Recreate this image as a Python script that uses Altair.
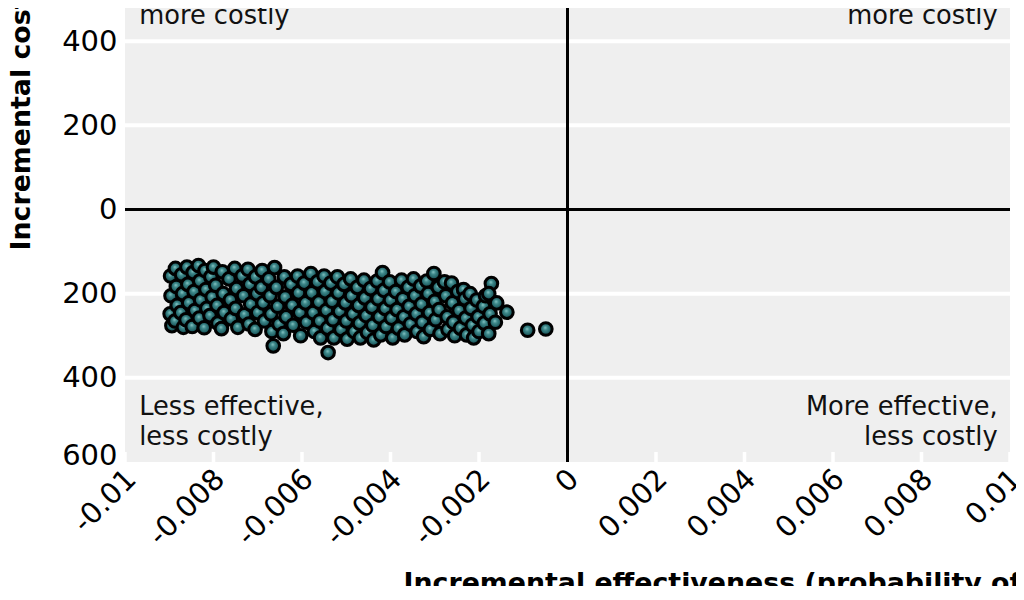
import altair as alt
import pandas as pd

# Probabilistic sensitivity analysis draws: (incremental effectiveness, incremental cost)
psa_draws = [
    (-0.00897, -158), (-0.00896, -205), (-0.00898, -248), (-0.00894, -276),
    (-0.00886, -140), (-0.00884, -183), (-0.00882, -228), (-0.00887, -265),
    (-0.00872, -155), (-0.00870, -200), (-0.00874, -245), (-0.00868, -280),
    (-0.00860, -137), (-0.00858, -178), (-0.00856, -222), (-0.00862, -262),
    (-0.00846, -150), (-0.00844, -195), (-0.00842, -240), (-0.00848, -278),
    (-0.00834, -133), (-0.00831, -170), (-0.00829, -215), (-0.00832, -258),
    (-0.00819, -145), (-0.00817, -190), (-0.00815, -235), (-0.00821, -281),
    (-0.00806, -160), (-0.00803, -208), (-0.00808, -252), (-0.00800, -137),
    (-0.00795, -180), (-0.00792, -228), (-0.00790, -270),
    (-0.00780, -148), (-0.00778, -200), (-0.00776, -245), (-0.00782, -283),
    (-0.00765, -165), (-0.00762, -215), (-0.00760, -260),
    (-0.00752, -140), (-0.00748, -188), (-0.00750, -235), (-0.00745, -280),
    (-0.00735, -158), (-0.00732, -205), (-0.00730, -250),
    (-0.00722, -142), (-0.00718, -178), (-0.00716, -225), (-0.00720, -272),
    (-0.00705, -160), (-0.00702, -200), (-0.00700, -245), (-0.00706, -285),
    (-0.00690, -145), (-0.00688, -222), (-0.00685, -265), (-0.00692, -185),
    (-0.00675, -165), (-0.00672, -205), (-0.00670, -248), (-0.00668, -290),
    (-0.00662, -138), (-0.00665, -324), (-0.00658, -185), (-0.00655, -230), (-0.00652, -272),
    (-0.00640, -160), (-0.00638, -208), (-0.00636, -255), (-0.00642, -295),
    (-0.00625, -178), (-0.00622, -228), (-0.00620, -275),
    (-0.00610, -158), (-0.00608, -198), (-0.00605, -245), (-0.00603, -300),
    (-0.00595, -175), (-0.00592, -222), (-0.00590, -268),
    (-0.00580, -152), (-0.00578, -198), (-0.00575, -245), (-0.00572, -290),
    (-0.00565, -172), (-0.00562, -220), (-0.00560, -265), (-0.00558, -305),
    (-0.00550, -158), (-0.00548, -195), (-0.00545, -240), (-0.00542, -282), (-0.00541, -340),
    (-0.00535, -175), (-0.00532, -218), (-0.00530, -262), (-0.00528, -305),
    (-0.00520, -160), (-0.00518, -198), (-0.00515, -242), (-0.00512, -285),
    (-0.00505, -178), (-0.00502, -222), (-0.00500, -265), (-0.00498, -308),
    (-0.00490, -165), (-0.00488, -205), (-0.00485, -248), (-0.00482, -290),
    (-0.00475, -185), (-0.00472, -228), (-0.00470, -270), (-0.00468, -305),
    (-0.00460, -168), (-0.00458, -210), (-0.00455, -252), (-0.00452, -292),
    (-0.00445, -188), (-0.00442, -232), (-0.00440, -275), (-0.00438, -310),
    (-0.00430, -170), (-0.00428, -212), (-0.00425, -255), (-0.00422, -298),
    (-0.00418, -150), (-0.00415, -192), (-0.00412, -235), (-0.00410, -278),
    (-0.00402, -172), (-0.00400, -215), (-0.00398, -258), (-0.00395, -305),
    (-0.00388, -195), (-0.00385, -238), (-0.00382, -282),
    (-0.00375, -168), (-0.00372, -212), (-0.00370, -255), (-0.00368, -298),
    (-0.00360, -185), (-0.00358, -230), (-0.00355, -272),
    (-0.00348, -165), (-0.00345, -205), (-0.00342, -248), (-0.00340, -290),
    (-0.00332, -182), (-0.00330, -225), (-0.00328, -268), (-0.00325, -302),
    (-0.00318, -170), (-0.00315, -200), (-0.00312, -245), (-0.00310, -285),
    (-0.00302, -152), (-0.00300, -218), (-0.00298, -262),
    (-0.00292, -185), (-0.00290, -238), (-0.00288, -295),
    (-0.00278, -172), (-0.00275, -205), (-0.00272, -255), (-0.00270, -285),
    (-0.00262, -175), (-0.00260, -222), (-0.00258, -268), (-0.00255, -300),
    (-0.00248, -195), (-0.00245, -240), (-0.00242, -282),
    (-0.00235, -190), (-0.00232, -212), (-0.00230, -258), (-0.00228, -298),
    (-0.00220, -200), (-0.00218, -235), (-0.00215, -275), (-0.00212, -305),
    (-0.00205, -215), (-0.00202, -255), (-0.00200, -290),
    (-0.00190, -230), (-0.00188, -270), (-0.00185, -205),
    (-0.00172, -176), (-0.00178, -200), (-0.00175, -248), (-0.00178, -295),
    (-0.00160, -222), (-0.00163, -268),
    (-0.00137, -244),
    (-0.00090, -287), (-0.00049, -284),
]

x_tick_values = [-0.01, -0.008, -0.006, -0.004, -0.002, 0, 0.002, 0.004, 0.006, 0.008, 0.01]
x_tick_labels = ["-0.01", "-0.008", "-0.006", "-0.004", "-0.002", "0",
                 "0.002", "0.004", "0.006", "0.008", "0.01"]
y_tick_values = [-600, -400, -200, 0, 200, 400, 600]
y_tick_labels = ["600", "400", "200", "0", "200", "400", "600"]
y_grid_values = [-400, -200, 200, 400]

quad_left_text = ["Less effective,\nmore costly", "Less effective,\nless costly"]
quad_left_x = [-0.00968, -0.00968]
quad_left_y = [513, -488]
quad_right_text = ["More effective,\nmore costly", "More effective,\nless costly"]
quad_right_x = [0.00972, 0.00972]
quad_right_y = [513, -488]

x_title = "Incremental effectiveness (probability of"
y_title = "Incremental cost"

FONT = "DejaVu Sans"

points = pd.DataFrame(psa_draws, columns=["d_eff", "d_cost"])
ticks = pd.DataFrame({"v": x_tick_values})
grid = pd.DataFrame({"g": y_grid_values})
zero = pd.DataFrame({"z": [0]})
qleft = pd.DataFrame({"t": quad_left_text, "x": quad_left_x, "y": quad_left_y})
qright = pd.DataFrame({"t": quad_right_text, "x": quad_right_x, "y": quad_right_y})


def expr_lookup(vals, labels):
    return ("[" + ",".join("'%s'" % l for l in labels) + "][indexof(["
            + ",".join(str(v) for v in vals) + "], datum.value)]")


xscale = alt.Scale(domain=[-0.01, 0.01], nice=False, zero=False)
yscale = alt.Scale(domain=[-600, 600], nice=False, zero=False)

xaxis = alt.Axis(
    values=x_tick_values, labelExpr=expr_lookup(x_tick_values, x_tick_labels),
    grid=False, ticks=False, domain=False,
    labelFont=FONT, labelFontSize=29, labelColor="black",
    labelAngle=-45, labelAlign="right", labelBaseline="middle",
    labelPadding=12, labelOffset=6, labelOverlap=False, labelBound=False, labelFlush=False,
    title=x_title, titleFont=FONT, titleFontSize=26.8, titleFontWeight="bold",
    titleColor="black", titleAlign="left", titleBaseline="alphabetic",
    titleAnchor="start", titleX=278, titleY=129.5, titleAngle=0,
)
yaxis = alt.Axis(
    values=y_tick_values, labelExpr=expr_lookup(y_tick_values, y_tick_labels),
    grid=False, ticks=False, domain=False,
    labelFont=FONT, labelFontSize=29, labelColor="black",
    labelPadding=8, labelFlush=True, labelFlushOffset=8, labelOverlap=False,
    title=y_title, titleFont=FONT, titleFontSize=26.8, titleFontWeight="bold",
    titleColor="black", titleAngle=-90, titleAlign="left", titleBaseline="alphabetic",
    titleX=-96, titleY=293,
)

grid_layer = alt.Chart(grid).mark_rule(color="white", strokeWidth=4).encode(
    y=alt.Y("g:Q", scale=yscale, axis=yaxis)
)
tick_layer = alt.Chart(ticks).mark_rule(color="white", strokeWidth=3.5).encode(
    x=alt.X("v:Q", scale=xscale, axis=xaxis),
    y=alt.value(505), y2=alt.value(495),
)
zero_h = alt.Chart(zero).mark_rule(color="black", strokeWidth=3).encode(y=alt.Y("z:Q", scale=yscale))
zero_v = alt.Chart(zero).mark_rule(color="black", strokeWidth=3).encode(x=alt.X("z:Q", scale=xscale))

sphere = {
    "gradient": "radial",
    "x1": 0.45, "y1": 0.38, "r1": 0.0,
    "x2": 0.5, "y2": 0.5, "r2": 0.55,
    "stops": [
        {"offset": 0.0, "color": "#8cc9c8"},
        {"offset": 0.3, "color": "#3f8a8c"},
        {"offset": 0.7, "color": "#1f5e62"},
        {"offset": 1.0, "color": "#0a2224"},
    ],
}
pts = alt.Chart(points).mark_circle(
    fill=sphere, stroke="black", strokeWidth=3, size=160, opacity=1
).encode(
    x=alt.X("d_eff:Q", scale=xscale),
    y=alt.Y("d_cost:Q", scale=yscale),
)

txt_left = alt.Chart(qleft).mark_text(
    align="left", baseline="alphabetic", font=FONT, fontSize=25.7,
    color="#111111", lineBreak="\n", lineHeight=30,
).encode(x=alt.X("x:Q", scale=xscale), y=alt.Y("y:Q", scale=yscale), text="t:N")
txt_right = alt.Chart(qright).mark_text(
    align="right", baseline="alphabetic", font=FONT, fontSize=25.7,
    color="#111111", lineBreak="\n", lineHeight=30,
).encode(x=alt.X("x:Q", scale=xscale), y=alt.Y("y:Q", scale=yscale), text="t:N")

chart = alt.layer(
    grid_layer, tick_layer, zero_h, zero_v, pts, txt_left, txt_right
).properties(
    width=885, height=505,
    autosize=alt.AutoSizeParams(type="none"),
    padding={"left": 117, "top": -51, "right": 6, "bottom": 124},
    background="white",
).configure_view(fill="#efefef", stroke=None)

chart.save("out.html", embed_options={"renderer": "svg", "actions": False})
